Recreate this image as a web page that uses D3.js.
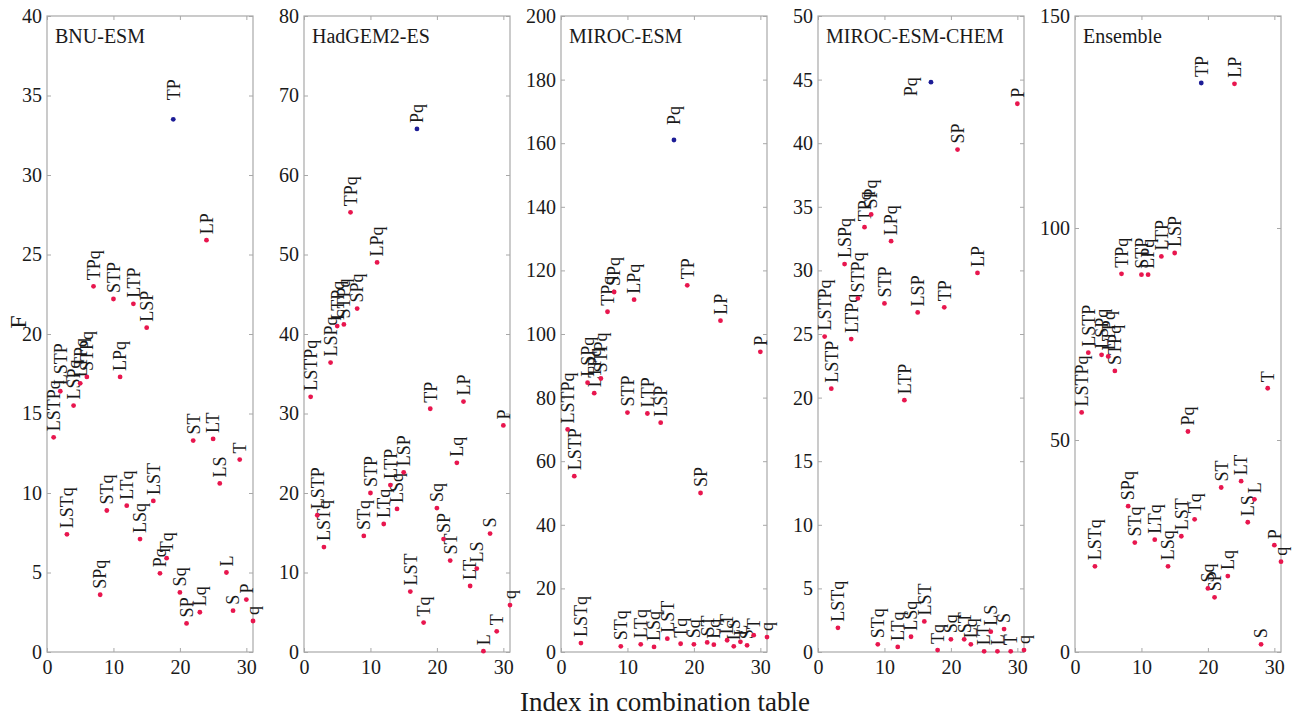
<!DOCTYPE html>
<html>
<head>
<meta charset="utf-8">
<script src="https://cdn.jsdelivr.net/npm/d3@7"></script>
<style>
  body { margin: 0; background: #fff; }
  svg text { font-family: "Liberation Serif", "DejaVu Serif", serif !important; }
</style>
</head>
<body>
<svg id="chart" width="1297" height="717"></svg>
<script>
// combination order (x index 1..31)
const combos = ["LSTPq", "LSTP", "LSTq", "LSPq", "LTPq", "STPq", "TPq", "SPq", "STq", "STP",
  "LPq", "LTq", "LTP", "LSq", "LSP", "LST", "Pq", "Tq", "TP", "Sq",
  "SP", "ST", "Lq", "LP", "LT", "LS", "L", "S", "T", "P", "q"];

const models = ["BNU-ESM", "HadGEM2-ES", "MIROC-ESM", "MIROC-ESM-CHEM", "Ensemble"];
const yMaxes = [40, 80, 200, 50, 150];
const yTickSteps = [5, 10, 20, 5, 50];
const xTicks = [0, 10, 20, 30];

// F values, one per combination
const bnuEsm = [13.5, 16.4, 7.4, 15.5, 16.9, 17.3, 23.0, 3.6, 8.9, 22.2,
  17.3, 9.2, 21.9, 7.1, 20.4, 9.5, 4.95, 5.9, 33.5, 3.75,
  1.8, 13.3, 2.5, 25.9, 13.4, 10.6, 5.0, 2.6, 12.1, 3.3, 1.95];
const hadgem = [32.1, 17.2, 13.2, 36.4, 41.0, 41.2, 55.3, 43.2, 14.6, 20.0,
  49.0, 16.1, 21.0, 18.0, 22.6, 7.6, 65.8, 3.7, 30.6, 18.1,
  14.2, 11.5, 23.8, 31.5, 8.3, 10.5, 0.1, 14.9, 2.6, 28.5, 5.9];
const mirocEsm = [70, 55.3, 2.8, 84.7, 81.4, 86.0, 107.0, 113.2, 1.8, 75.3,
  110.8, 2.4, 75.0, 1.6, 72.1, 4.2, 161.0, 2.6, 115.3, 2.4,
  50.0, 3.0, 2.3, 104.2, 3.7, 1.8, 3.2, 2.1, 5.3, 94.4, 4.7];
const mirocChem = [24.8, 20.7, 1.9, 30.5, 24.6, 27.8, 33.4, 34.4, 0.6, 27.4,
  32.3, 0.4, 19.8, 1.2, 26.7, 2.4, 44.8, 0.15, 27.1, 1.0,
  39.5, 1.0, 0.6, 29.8, 0.05, 1.6, 0.05, 1.8, 0.05, 43.1, 0.15];
const ensemble = [56.5, 70.6, 20.2, 70.1, 69.7, 66.3, 89.2, 34.4, 25.8, 89.0,
  89.0, 26.5, 93.3, 20.2, 94.1, 27.3, 52.0, 31.3, 134.2, 15.0,
  12.9, 38.8, 17.9, 134.0, 40.3, 30.6, 36.0, 1.8, 62.2, 25.2, 21.3];

const seriesList = [bnuEsm, hadgem, mirocEsm, mirocChem, ensemble];

const panelLefts = [47, 304, 561, 818, 1075];
const panelWidth = 206;
const plotTop = 16, plotBottom = 652;
// gap between the highlighted (max) point and its label, per panel
const maxLabelGap = [19, 6, 15, 0, 6];

const red = "#e8164e";
const blue = "#1c1c96";
const boxColor = "#a8a8a8";
const textColor = "#1a1a1a";
const serif = "Liberation Serif, DejaVu Serif, serif";

const svg = d3.select("#chart").attr("font-family", serif);

models.forEach(function(name, m) {
  const values = seriesList[m];
  const left = panelLefts[m];
  const x = d3.scaleLinear().domain([0, 31]).range([left, left + panelWidth]);
  const y = d3.scaleLinear().domain([0, yMaxes[m]]).range([plotBottom, plotTop]);
  const yTicks = d3.range(0, yMaxes[m] + 0.001, yTickSteps[m]);
  const maxIdx = d3.maxIndex(values);

  const g = svg.append("g");

  // frame
  g.append("rect")
    .attr("x", left).attr("y", plotTop)
    .attr("width", panelWidth).attr("height", plotBottom - plotTop)
    .attr("fill", "none")
    .attr("stroke", boxColor)
    .attr("stroke-width", 1.2);

  // left axis with labels, ticks pointing inward
  const yAxis = g.append("g")
    .attr("transform", `translate(${left},0)`)
    .call(d3.axisLeft(y).tickValues(yTicks).tickSizeInner(-4).tickSizeOuter(0).tickPadding(5))
    .attr("font-family", serif)
    .attr("font-size", 20);
  yAxis.select(".domain").remove();
  yAxis.selectAll("line").attr("stroke", boxColor);
  yAxis.selectAll("text").attr("fill", textColor);

  // right mirror ticks
  const yRight = g.append("g")
    .attr("transform", `translate(${left + panelWidth},0)`)
    .call(d3.axisRight(y).tickValues(yTicks).tickSizeInner(-4).tickSizeOuter(0).tickFormat(""));
  yRight.select(".domain").remove();
  yRight.selectAll("line").attr("stroke", boxColor);

  // bottom axis
  const xAxis = g.append("g")
    .attr("transform", `translate(0,${plotBottom})`)
    .call(d3.axisBottom(x).tickValues(xTicks).tickSizeInner(-4).tickSizeOuter(0).tickPadding(8))
    .attr("font-family", serif)
    .attr("font-size", 20);
  xAxis.select(".domain").remove();
  xAxis.selectAll("line").attr("stroke", boxColor);
  xAxis.selectAll("text").attr("fill", textColor);

  // top mirror ticks
  const xTop = g.append("g")
    .attr("transform", `translate(0,${plotTop})`)
    .call(d3.axisTop(x).tickValues(xTicks).tickSizeInner(-4).tickSizeOuter(0).tickFormat(""));
  xTop.select(".domain").remove();
  xTop.selectAll("line").attr("stroke", boxColor);

  // panel title
  g.append("text")
    .attr("x", left + 8)
    .attr("y", plotTop + 27)
    .attr("font-size", 20)
    .attr("fill", textColor)
    .text(name);

  const pts = values.map(function(v, i) { return { idx: i + 1, v: v, label: combos[i], isMax: i === maxIdx }; });

  // point labels, rotated, reading upward
  g.selectAll("text.lbl")
    .data(pts)
    .enter()
    .append("text")
    .attr("class", "lbl")
    .attr("transform", function(d) {
      if (m === 3 && d.isMax) {
        return `translate(${x(d.idx) - 20},${y(d.v) + 14}) rotate(-90)`;
      }
      const gap = d.isMax ? maxLabelGap[m] : 6;
      return `translate(${x(d.idx)},${y(d.v) - gap}) rotate(-90)`;
    })
    .attr("dy", "0.35em")
    .attr("font-size", 18)
    .attr("fill", textColor)
    .text(function(d) { return d.label; });

  // points
  g.selectAll("circle.pt")
    .data(pts)
    .enter()
    .append("circle")
    .attr("class", "pt")
    .attr("cx", function(d) { return x(d.idx); })
    .attr("cy", function(d) { return y(d.v); })
    .attr("r", 2.4)
    .attr("fill", function(d) { return d.isMax ? blue : red; });
});

// shared axis titles
svg.append("text")
  .attr("transform", "translate(26,322) rotate(-90)")
  .attr("text-anchor", "middle")
  .attr("font-size", 24)
  .attr("fill", textColor)
  .text("F");

svg.append("text")
  .attr("x", 665)
  .attr("y", 711)
  .attr("text-anchor", "middle")
  .attr("font-size", 27)
  .attr("fill", textColor)
  .text("Index in combination table");
</script>
</body>
</html>
